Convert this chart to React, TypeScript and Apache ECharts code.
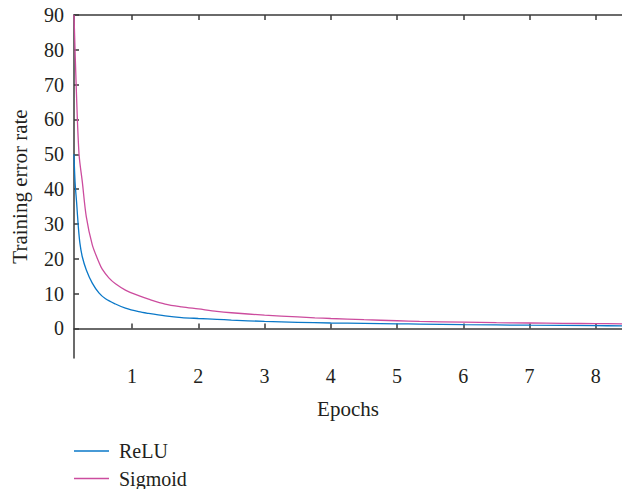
import React, { useEffect, useRef } from "react";
import * as echarts from "echarts";

const reluEpochs = [0.124, 0.14, 0.164, 0.19, 0.213, 0.25, 0.31, 0.4, 0.5, 0.6, 0.75, 0.9, 1.1, 1.25, 1.5, 1.75, 2, 2.28, 2.5, 3, 3.5, 4, 4.5, 5, 5.34, 6, 7, 8, 8.4];
const reluValues = [50, 42, 36, 29, 24.5, 20.5, 16.8, 13, 10.2, 8.5, 7, 5.8, 4.8, 4.3, 3.6, 3.1, 2.85, 2.6, 2.4, 2.0, 1.75, 1.55, 1.45, 1.32, 1.25, 1.08, 0.92, 0.78, 0.74];

const sigmoidEpochs = [0.124, 0.16, 0.2, 0.25, 0.31, 0.4, 0.5, 0.55, 0.65, 0.75, 0.9, 1.1, 1.25, 1.5, 1.75, 2, 2.28, 2.5, 3, 3.5, 3.76, 4, 4.5, 5, 5.34, 6, 6.5, 7, 7.5, 8, 8.4];
const sigmoidValues = [90, 68, 50, 42, 32, 24, 19, 17, 14.5, 12.8, 11, 9.4, 8.4, 7.0, 6.2, 5.6, 4.9, 4.5, 3.8, 3.3, 3.05, 2.85, 2.5, 2.2, 2.0, 1.8, 1.65, 1.55, 1.45, 1.38, 1.32];

const xTicks = [1, 2, 3, 4, 5, 6, 7, 8];
const yTicks = [0, 10, 20, 30, 40, 50, 60, 70, 80, 90];
const seriesNames = ["ReLU", "Sigmoid"];
const seriesColors = ["#0a78c8", "#cc4c9e"];

const FONT = "Liberation Serif";
const AXIS_COLOR = "#3a3a3a";
const TEXT_COLOR = "#231f20";

export default function App() {
  const ref = useRef<HTMLDivElement>(null);
  useEffect(() => {
    if (!ref.current) return;
    const chart = echarts.init(ref.current, undefined, { renderer: "svg" });
    const pairs = (xs: number[], ys: number[]) => xs.map((x, i) => [x, ys[i]]);
    const legendGraphics: any[] = [];
    seriesNames.forEach((name, i) => {
      const cy = 451 + i * 27.5;
      legendGraphics.push({
        type: "line",
        shape: { x1: 74, y1: cy, x2: 109, y2: cy },
        style: { stroke: seriesColors[i], lineWidth: 1.4 },
      });
      legendGraphics.push({
        type: "text",
        x: 119,
        y: cy,
        style: { text: name, fontFamily: FONT, fontSize: 20, fill: TEXT_COLOR, verticalAlign: "middle" },
      });
    });
    chart.setOption({
      animation: false,
      backgroundColor: "#ffffff",
      grid: { left: 74, top: 15, right: -12, bottom: 131, containLabel: false },
      xAxis: [
        {
          type: "value",
          min: 0.124,
          max: 8.396,
          position: "bottom",
          name: "Epochs",
          nameLocation: "middle",
          nameGap: 40,
          nameTextStyle: { fontFamily: FONT, fontSize: 21, color: TEXT_COLOR },
          axisLine: { show: true, lineStyle: { color: AXIS_COLOR, width: 1.5 } },
          axisTick: { show: true, inside: true, length: 5, customValues: xTicks, lineStyle: { color: AXIS_COLOR, width: 1.5 } },
          axisLabel: { show: true, customValues: xTicks, margin: 8, fontFamily: FONT, fontSize: 20, color: TEXT_COLOR },
          splitLine: { show: false },
        },
        {
          type: "value",
          min: 0.124,
          max: 8.396,
          position: "top",
          axisLine: { show: true, lineStyle: { color: AXIS_COLOR, width: 1.5 } },
          axisTick: { show: true, inside: true, length: 5, customValues: xTicks, lineStyle: { color: AXIS_COLOR, width: 1.5 } },
          axisLabel: { show: false },
          splitLine: { show: false },
        },
      ],
      yAxis: {
        type: "value",
        min: -8.5,
        max: 90,
        name: "Training error rate",
        nameLocation: "middle",
        nameGap: 44,
        nameTextStyle: { fontFamily: FONT, fontSize: 21, color: TEXT_COLOR },
        axisLine: { show: true, lineStyle: { color: AXIS_COLOR, width: 1.5 } },
        axisTick: { show: true, inside: true, length: 5, customValues: yTicks, lineStyle: { color: AXIS_COLOR, width: 1.5 } },
        axisLabel: { show: true, customValues: yTicks, margin: 10, fontFamily: FONT, fontSize: 20, color: TEXT_COLOR },
        splitLine: { show: false },
      },
      graphic: legendGraphics,
      series: [
        {
          name: seriesNames[0],
          type: "line",
          data: pairs(reluEpochs, reluValues),
          symbol: "none",
          smooth: 0.3,
          lineStyle: { color: seriesColors[0], width: 1.3 },
          itemStyle: { color: seriesColors[0] },
        },
        {
          name: seriesNames[1],
          type: "line",
          data: pairs(sigmoidEpochs, sigmoidValues),
          symbol: "none",
          smooth: 0.3,
          lineStyle: { color: seriesColors[1], width: 1.3 },
          itemStyle: { color: seriesColors[1] },
        },
      ],
    });
    return () => chart.dispose();
  }, []);
  return <div ref={ref} style={{ position: "fixed", left: 0, top: 0, width: 622, height: 489 }} />;
}
